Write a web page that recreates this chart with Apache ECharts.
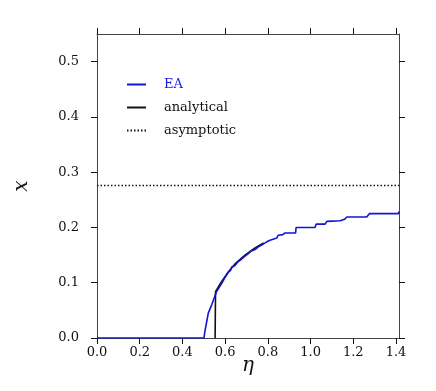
<!DOCTYPE html>
<html>
<head>
<meta charset="utf-8">
<script src="https://cdn.jsdelivr.net/npm/echarts@6/dist/echarts.min.js"></script>
<style>
  html, body { margin: 0; padding: 0; background: #fff; }
  #chart { width: 436px; height: 391px; }
</style>
</head>
<body>
<div id="chart"></div>
<script>
// EA (numerical) curve
const etaEA = [0, 0.501, 0.505, 0.511, 0.521, 0.537, 0.56, 0.584, 0.60, 0.615, 0.625, 0.63, 0.646, 0.66, 0.675,
  0.693, 0.71, 0.72, 0.74, 0.755, 0.765, 0.787, 0.80, 0.81, 0.842, 0.849, 0.87, 0.88, 0.93, 0.932, 1.021, 1.026,
  1.068, 1.076, 1.138, 1.16, 1.17, 1.263, 1.275, 1.411, 1.414];
const xEA = [0, 0, 0.012, 0.024, 0.045, 0.060, 0.084, 0.099, 0.110, 0.119, 0.122, 0.128, 0.131, 0.138, 0.142,
  0.148, 0.153, 0.157, 0.160, 0.165, 0.167, 0.172, 0.175, 0.177, 0.181, 0.186, 0.187, 0.190, 0.190, 0.200, 0.200, 0.206,
  0.206, 0.211, 0.212, 0.215, 0.219, 0.219, 0.225, 0.225, 0.229];

// analytical curve
const etaAna = [0.553, 0.555, 0.58, 0.61, 0.646, 0.693, 0.74, 0.78];
const xAna = [0, 0.084, 0.100, 0.117, 0.134, 0.150, 0.163, 0.172];

// asymptotic value
const etaAsym = [0, 1.414];
const xAsym = [0.276, 0.276];

const xTicks = [0, 0.2, 0.4, 0.6, 0.8, 1.0, 1.2, 1.4];
const yTicks = [0, 0.1, 0.2, 0.3, 0.4, 0.5];

const serif = '"DejaVu Serif", "Liberation Serif", serif';
const zip = (a, b) => a.map((v, i) => [v, b[i]]);

const axisBase = {
  type: 'value',
  axisLine: { show: true, onZero: false, lineStyle: { color: '#444', width: 1 } },
  axisTick: { show: true, inside: false, length: 6, lineStyle: { color: '#111', width: 1 } },
  splitLine: { show: false },
};

const chart = echarts.init(document.getElementById('chart'));

const option = {
  animation: false,
  backgroundColor: '#fff',
  grid: { left: 97, right: 37, top: 34, bottom: 53 },
  legend: {
    orient: 'vertical',
    left: 121,
    top: 73,
    itemWidth: 19,
    itemHeight: 14,
    itemGap: 10,
    // hide the round marker, keep only the line sample
    itemStyle: { opacity: 0 },
    textStyle: { fontFamily: serif, fontSize: 13, color: '#111', padding: [0, 0, 0, 13] },
    data: [
      { name: 'EA', textStyle: { color: '#1a1ae6' } },
      { name: 'analytical' },
      { name: 'asymptotic' },
    ],
  },
  xAxis: [
    {
      ...axisBase,
      position: 'bottom',
      min: 0,
      max: 1.414,
      axisTick: { ...axisBase.axisTick, customValues: xTicks },
      axisLabel: {
        customValues: xTicks,
        margin: 8,
        fontFamily: serif,
        fontSize: 13,
        color: '#111',
        formatter: (v) => v.toFixed(1),
      },
      name: 'η',
      nameLocation: 'middle',
      nameGap: 18,
      nameMoveOverlap: false,
      nameTextStyle: { fontFamily: serif, fontSize: 20, fontStyle: 'italic', color: '#111' },
    },
    {
      ...axisBase,
      position: 'top',
      min: 0,
      max: 1.414,
      axisTick: { ...axisBase.axisTick, customValues: xTicks },
      axisLabel: { show: false },
    },
  ],
  yAxis: [
    {
      ...axisBase,
      position: 'left',
      min: 0,
      max: 0.55,
      axisTick: { ...axisBase.axisTick, customValues: yTicks },
      axisLabel: {
        customValues: yTicks,
        margin: 18,
        fontFamily: serif,
        fontSize: 13,
        color: '#111',
        formatter: (v) => v.toFixed(1),
      },
      name: 'x',
      nameLocation: 'middle',
      nameRotate: 90,
      nameGap: 65,
      nameMoveOverlap: false,
      nameTextStyle: { fontFamily: serif, fontSize: 20, fontStyle: 'italic', color: '#111' },
    },
    {
      ...axisBase,
      position: 'right',
      min: 0,
      max: 0.55,
      axisTick: { ...axisBase.axisTick, customValues: yTicks },
      axisLabel: { show: false },
    },
  ],
  series: [
    {
      name: 'EA',
      type: 'line',
      symbol: 'none',
      z: 3,
      lineStyle: { color: '#1414d2', width: 1.6 },
      itemStyle: { color: '#1414d2' },
      data: zip(etaEA, xEA),
    },
    {
      name: 'analytical',
      type: 'line',
      symbol: 'none',
      z: 2,
      lineStyle: { color: '#111', width: 1.6 },
      itemStyle: { color: '#111' },
      data: zip(etaAna, xAna),
    },
    {
      name: 'asymptotic',
      type: 'line',
      symbol: 'none',
      z: 2,
      lineStyle: { color: '#111', width: 1.5, type: [1.5, 2] },
      itemStyle: { color: '#111' },
      data: zip(etaAsym, xAsym),
    },
  ],
};

chart.setOption(option);
</script>
</body>
</html>
